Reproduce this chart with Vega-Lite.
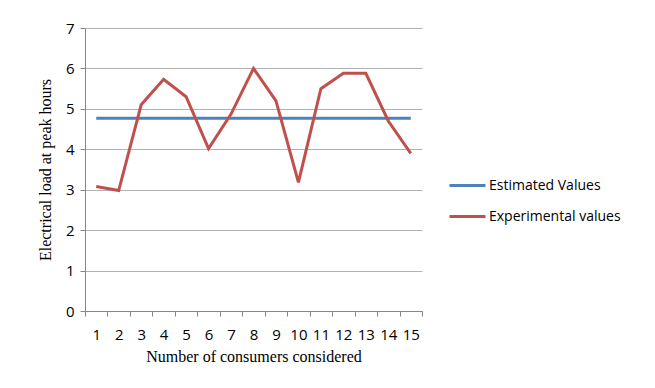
{
  "$schema": "https://vega.github.io/schema/vega-lite/v6.json",
  "autosize": {"type": "none"},
  "width": 337,
  "height": 283,
  "padding": {"left": 85, "top": 28, "right": 233, "bottom": 77},
  "background": "white",
  "config": {"view": {"stroke": null}},
  "data": {"values": [
    {"n": "1", "series": "Estimated Values", "value": 4.77},
    {"n": "2", "series": "Estimated Values", "value": 4.77},
    {"n": "3", "series": "Estimated Values", "value": 4.77},
    {"n": "4", "series": "Estimated Values", "value": 4.77},
    {"n": "5", "series": "Estimated Values", "value": 4.77},
    {"n": "6", "series": "Estimated Values", "value": 4.77},
    {"n": "7", "series": "Estimated Values", "value": 4.77},
    {"n": "8", "series": "Estimated Values", "value": 4.77},
    {"n": "9", "series": "Estimated Values", "value": 4.77},
    {"n": "10", "series": "Estimated Values", "value": 4.77},
    {"n": "11", "series": "Estimated Values", "value": 4.77},
    {"n": "12", "series": "Estimated Values", "value": 4.77},
    {"n": "13", "series": "Estimated Values", "value": 4.77},
    {"n": "14", "series": "Estimated Values", "value": 4.77},
    {"n": "15", "series": "Estimated Values", "value": 4.77},
    {"n": "1", "series": "Experimental values", "value": 3.08},
    {"n": "2", "series": "Experimental values", "value": 2.98},
    {"n": "3", "series": "Experimental values", "value": 5.1},
    {"n": "4", "series": "Experimental values", "value": 5.73},
    {"n": "5", "series": "Experimental values", "value": 5.3},
    {"n": "6", "series": "Experimental values", "value": 4.02},
    {"n": "7", "series": "Experimental values", "value": 4.87},
    {"n": "8", "series": "Experimental values", "value": 6.0},
    {"n": "9", "series": "Experimental values", "value": 5.2},
    {"n": "10", "series": "Experimental values", "value": 3.18},
    {"n": "11", "series": "Experimental values", "value": 5.5},
    {"n": "12", "series": "Experimental values", "value": 5.88},
    {"n": "13", "series": "Experimental values", "value": 5.88},
    {"n": "14", "series": "Experimental values", "value": 4.7},
    {"n": "15", "series": "Experimental values", "value": 3.9}
  ]},
  "mark": {"type": "line", "strokeWidth": 3},
  "encoding": {
    "x": {
      "field": "n", "type": "ordinal", "sort": null,
      "scale": {"type": "band", "paddingInner": 0, "paddingOuter": 0},
      "axis": {
        "title": "Number of consumers considered",
        "titleFont": "Liberation Serif", "titleFontSize": 16, "titleFontWeight": "normal", "titleColor": "#000000", "titlePadding": 6,
        "labelFont": "Open Sans", "labelFontSize": 15, "labelColor": "#000000", "labelAngle": 0, "labelPadding": 11,
        "domainColor": "#868686", "tickColor": "#868686", "tickSize": 5, "tickBand": "extent", "grid": false
      }
    },
    "y": {
      "field": "value", "type": "quantitative",
      "scale": {"domain": [0, 7], "nice": false, "zero": true},
      "axis": {
        "title": "Electrical load at peak hours",
        "titleFont": "Liberation Serif", "titleFontSize": 16, "titleFontWeight": "normal", "titleColor": "#000000", "titlePadding": 12,
        "labelFont": "Open Sans", "labelFontSize": 15, "labelColor": "#000000", "labelPadding": 6,
        "values": [0, 1, 2, 3, 4, 5, 6, 7],
        "domainColor": "#868686", "tickColor": "#868686", "tickSize": 5,
        "grid": true, "gridColor": "#b3b3b3", "gridWidth": 1
      }
    },
    "color": {
      "field": "series", "type": "nominal",
      "scale": {"domain": ["Estimated Values", "Experimental values"], "range": ["#4F81BD", "#C0504D"]},
      "legend": {
        "title": null, "orient": "none", "legendX": 363, "legendY": 138,
        "symbolType": "stroke", "symbolSize": 1296, "symbolStrokeWidth": 3,
        "labelFont": "Open Sans", "labelFontSize": 14, "labelColor": "#000000", "labelOffset": 2,
        "rowPadding": 4
      }
    }
  }
}
